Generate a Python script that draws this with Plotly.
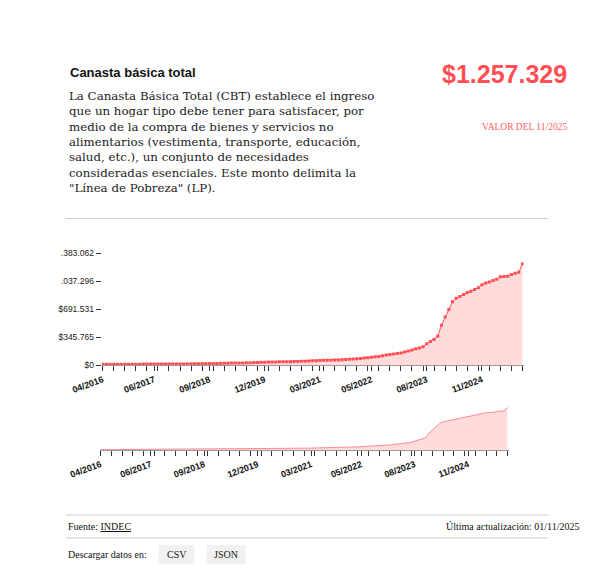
import plotly.graph_objects as go

months = []
for y in range(2016, 2026):
    for m in range(1, 13):
        if (y == 2016 and m < 4) or (y == 2025 and m > 10):
            continue
        months.append(f"{m:02d}/{y}")

values = [
    12489, 12900, 13155, 13300, 13200, 13150, 13400, 13500, 13670,
    13900, 14100, 14500, 14700, 14900, 15100, 15300, 15450, 15600, 15800, 16000, 16200,
    16600, 17000, 17400, 17600, 17900, 18300, 18900, 19600, 21000, 22700, 23500, 24000,
    25300, 26000, 27700, 28700, 29300, 29800, 30400, 31000, 33200, 34800, 36200, 38000,
    39500, 40300, 41500, 43000, 43800, 43800, 45000, 46100, 47600, 50900, 51400, 54200,
    55000, 57200, 59800, 61000, 62500, 63500, 65500, 66600, 68700, 71500, 74900, 77800,
    80600, 84000, 90600, 94500, 100800, 104600, 110000, 119500, 127000, 133000, 139000, 145000,
    152000, 164000, 176000, 190000, 205000, 215000, 229000, 265000, 295000, 320000, 360000, 495000,
    596000, 690000, 786000, 828000, 850000, 876000, 900000, 917000, 939000, 960000, 998000, 1017000,
    1030000, 1048000, 1065000, 1095000, 1100000, 1102000, 1122000, 1140000, 1150000, 1257329,
]
tick_labels = ["04/2016", "06/2017", "09/2018", "12/2019", "03/2021", "05/2022", "08/2023", "11/2024"]
y_ticks = [0, 345765, 691531, 1037296, 1383062]
y_tick_text = ["$0", "$345.765", "$691.531", ".037.296", ".383.062"]

idx = list(range(len(values)))
tick_idx = [months.index(t) for t in tick_labels]
RED = "#ff4f55"
FILL = "rgba(255,90,95,0.22)"

fig = go.Figure()
fig.add_trace(go.Scatter(x=idx, y=values, mode="lines+markers", line=dict(color=RED, width=1),
                         marker=dict(symbol="square", size=3, color=RED), fill="tozeroy",
                         fillcolor=FILL, xaxis="x", yaxis="y", hoverinfo="skip"))
fig.add_trace(go.Scatter(x=idx, y=values, mode="lines", line=dict(color="#ff8a8d", width=1),
                         fill="tozeroy", fillcolor=FILL, xaxis="x2", yaxis="y2", hoverinfo="skip"))

W, H = 595, 584
# empirical correction of rendering offset/scale
def px(x): return ((x - 38.4) / 0.948) / W
def py(y): return 1 - ((y - 9) / 0.99) / H

axcommon = dict(tickvals=tick_idx, ticktext=tick_labels, tickangle=-20, ticks="outside", ticklen=5,
                tickcolor="#333", showgrid=False, zeroline=False, showline=True, linecolor="#999",
                tickfont=dict(family="Liberation Sans", size=9, color="#111", weight="bold"),
                range=[-0.3, len(values) - 0.7],
                minor=dict(tick0=0, dtick=3, ticks="outside", ticklen=5, tickcolor="#333"))
fig.update_layout(
    width=W, height=H, margin=dict(l=0, r=0, t=0, b=0), paper_bgcolor="white", plot_bgcolor="white",
    showlegend=False, font=dict(family="Liberation Serif"),
    xaxis=dict(domain=[px(101), px(523)], anchor="y", **axcommon),
    yaxis=dict(domain=[py(365), py(250)], anchor="x", range=[0, 1420000], tickvals=y_ticks,
               ticktext=y_tick_text, ticks="outside", ticklen=5, tickcolor="#333", showgrid=False,
               zeroline=False, showline=False, tickfont=dict(family="Liberation Sans", size=8.5, color="#222")),
    xaxis2=dict(domain=[px(99), px(508)], anchor="y2", **axcommon),
    yaxis2=dict(domain=[py(450), py(407)], anchor="x2", range=[0, 1257329], visible=False),
)
shapes = [
    dict(type="line", xref="paper", yref="paper", x0=px(65), x1=px(548), y0=py(218), y1=py(218),
         line=dict(color="#ccc", width=1)),
    dict(type="line", xref="paper", yref="paper", x0=px(65), x1=px(548), y0=py(515), y1=py(515),
         line=dict(color="#ccc", width=1)),
    dict(type="line", xref="paper", yref="paper", x0=px(65), x1=px(548), y0=py(538), y1=py(538),
         line=dict(color="#ccc", width=1)),
    dict(type="rect", xref="paper", yref="paper", x0=px(158), x1=px(194), y0=py(564), y1=py(545),
         fillcolor="#f1f1f1", line=dict(width=0)),
    dict(type="rect", xref="paper", yref="paper", x0=px(206), x1=px(245), y0=py(564), y1=py(545),
         fillcolor="#f1f1f1", line=dict(width=0)),
]
fig.update_layout(shapes=shapes)
body = ("La Canasta Básica Total (CBT) establece el ingreso<br>que un hogar tipo debe tener para satisfacer, por"
        "<br>medio de la compra de bienes y servicios no<br>alimentarios (vestimenta, transporte, educación,"
        "<br>salud, etc.), un conjunto de necesidades<br>consideradas esenciales. Este monto delimita la"
        "<br>\"Línea de Pobreza\" (LP).")
ann = [
    dict(text="<b>Canasta básica total</b>", x=px(67), y=py(62), font=dict(family="Liberation Sans", size=13, color="#111")),
    dict(text=body, x=px(66), y=py(86), align="left", font=dict(family="DejaVu Serif", size=11.8, color="#222")),
    dict(text="<b>$1.257.329</b>", x=px(568), y=py(57), xanchor="right", font=dict(family="Liberation Sans", size=25, color="#ff4f55")),
    dict(text="VALOR DEL 11/2025", x=px(568), y=py(119), xanchor="right", font=dict(family="Liberation Serif", size=9.5, color="#ff5a5f")),
    dict(text="Fuente: <u>INDEC</u>", x=px(65), y=py(519), font=dict(family="Liberation Serif", size=10, color="#111")),
    dict(text="Última actualización: 01/11/2025", x=px(580), y=py(519), xanchor="right", font=dict(family="Liberation Serif", size=10, color="#111")),
    dict(text="Descargar datos en:", x=px(65), y=py(547), font=dict(family="Liberation Serif", size=10, color="#111")),
    dict(text="CSV", x=px(176), y=py(547), xanchor="center", font=dict(family="Liberation Serif", size=10, color="#111")),
    dict(text="JSON", x=px(225.5), y=py(547), xanchor="center", font=dict(family="Liberation Serif", size=10, color="#111")),
]
for a in ann:
    a.setdefault("xanchor", "left")
    a.update(xref="paper", yref="paper", yanchor="top", showarrow=False)
fig.update_layout(annotations=ann)
fig.write_html("out.html")
